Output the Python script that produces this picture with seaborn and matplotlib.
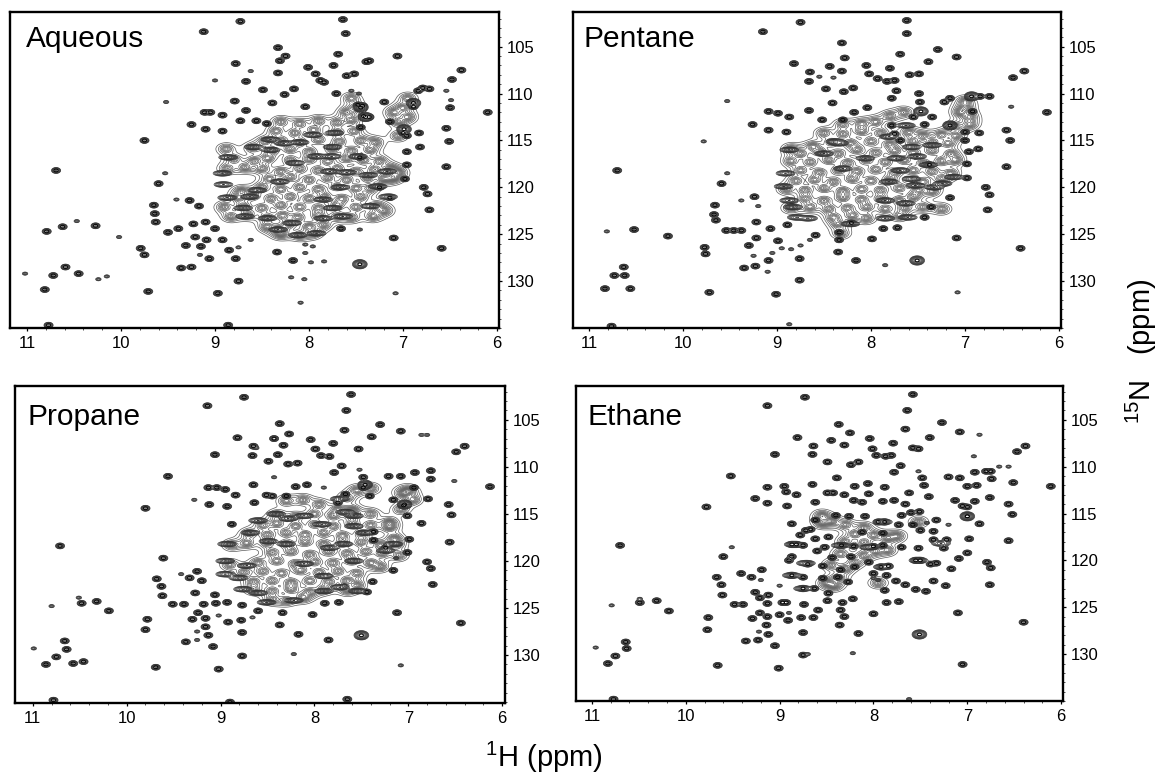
import numpy as np
import pandas as pd
import matplotlib
matplotlib.use("Agg")
import matplotlib.pyplot as plt
from matplotlib.path import Path
from matplotlib.ticker import MultipleLocator
import seaborn as sns

# ---- peak tables: (1H ppm, 15N ppm) ----
aqueous_sharp = [(7.64,102.1),(7.61,103.6),(8.73,102.3),(9.12,103.4),(8.33,105.1),(8.31,106.5),(8.25,106.0),(7.69,105.8),(7.06,106.0),
(7.36,106.5),(7.39,106.6),(7.74,107.0),(8.78,106.8),(8.33,107.8),(8.01,107.2),(7.93,107.9),(7.84,108.8),(7.88,108.6),(7.52,107.9),(7.6,108.1),
(6.38,107.5),(6.48,108.5),(8.67,108.7),(8.49,109.6),(8.16,109.5),(8.26,110.1),(7.71,110.0),(6.79,109.4),(6.72,109.5),(6.84,109.7),
(8.79,110.8),(8.39,111.0),(6.5,111.5),(6.1,112.0),(9.11,112.0),(9.05,112.0),(8.92,112.3),(8.67,111.8),(8.73,112.9),(8.56,112.9),(8.45,113.2),
(8.04,111.4),(7.48,111.2),(7.43,111.3),(7.42,112.4),(7.36,112.5),(7.45,113.6),(7.2,110.9),(6.89,111.4),(9.25,113.3),(9.1,113.8),(8.92,114.0),(9.75,115.0),
(6.54,113.7),(6.51,115.1),(6.54,117.8),(6.96,116.2),(6.96,117.6),(6.98,119.1),(6.78,120.0),(6.74,120.7),(6.72,122.4),(7.14,121.1),(7.25,120.0),
(7.1,125.4),(6.59,126.5),(7.66,124.4),(8.17,127.8),(8.34,126.9),(8.78,127.6),(9.06,127.6),(8.75,130.0),(8.97,131.3),(9.71,131.1),
(8.86,134.7),(10.77,134.7),(10.81,130.9),(10.72,129.4),(10.59,128.5),(10.45,129.2),(10.69,118.2),(9.6,119.6),(9.65,121.9),(9.64,122.8),(9.63,123.7),
(10.62,124.2),(10.79,124.7),(10.27,124.1),(9.79,126.5),(9.75,127.2),(9.5,124.8),(9.39,124.4),(9.27,121.4),(9.17,122.0),(9.31,126.2),(9.15,126.3),
(9.36,128.6),(9.25,128.5),(9.09,125.6),(8.92,125.6),(9.21,125.3),(9.23,123.9),(9.1,123.7),(9.0,124.4),(8.85,126.7),(7.14,113.0),(7.0,114.2),(6.96,114.5),
(6.83,114.2),(6.82,115.7),(7.46,116.8)]
aqueous_weak = [(8.62,107.6),(9.0,108.6),(6.54,109.7),(9.52,110.9),(6.49,110.7),(7.46,124.5),(7.08,131.3),(8.19,129.6),(8.09,132.3),(11.02,129.2),
(10.15,129.5),(10.24,129.8),(9.53,118.5),(10.47,123.6),(10.02,125.3),(9.41,121.3),(9.16,127.2),(8.75,126.4),(8.62,125.6),(8.04,127.0),(7.98,128.0),(7.84,127.9),(8.05,129.8),(8.04,126.1),(7.96,126.3),(7.55,109.7),(7.47,110.0)]
aqueous_strong = [(7.46,128.2),(7.45,111.5),(7.4,112.5),(6.89,111.0),(6.99,113.8)]
aqueous_streak = [(8.68,123.1),(8.87,121.1),(8.44,123.3),(8.92,118.5),(8.91,119.7),(8.86,116.8),(8.59,115.7),(8.41,114.9),(8.31,119.4),(8.15,117.4),(7.92,116.7),(7.75,115.7),(7.73,114.2),(7.96,114.4),
(7.48,116.7),(7.6,118.4),(7.78,118.3),(7.37,118.7),(7.17,118.3),(7.27,119.9),(7.16,121.0),(7.35,122.0),(7.64,123.1),(7.85,123.3),(7.85,121.3),(8.18,123.8),(8.33,124.5),(8.12,125.1),(7.92,124.9),
(8.63,121.0),(8.55,120.3),(8.7,122.2),(7.67,120.0),(7.75,122.2),(8.41,116.0),(8.27,115.3),(8.1,115.2),(7.76,116.7)]
aqueous_core = [(8.3,113.0),(8.1,113.2),(7.9,112.9),(7.7,113.1),(7.55,112.8),(8.35,114.0),(8.15,114.2),(7.95,113.9),(7.7,114.1),(7.52,114.0),
(8.47,115.1),(8.3,115.0),(8.1,115.2),(7.9,114.9),(7.68,115.1),(7.45,115.0),(7.3,115.2),(8.88,115.9),(8.6,115.8),(8.4,116.1),(8.2,115.9),(8.0,116.2),
(7.75,115.9),(7.55,116.1),(7.35,116.0),(8.8,117.0),(8.58,117.2),(8.44,116.9),(8.2,117.1),(8.0,117.0),(7.8,117.2),(7.6,116.9),(7.42,117.1),(7.25,117.2),
(8.87,118.0),(8.68,117.9),(8.5,118.0),(8.3,118.3),(8.1,118.0),(7.9,118.2),(7.7,118.0),(7.5,118.3),(7.3,118.1),(7.13,118.0),(7.05,118.4),
(8.42,119.1),(8.2,118.9),(8.0,119.2),(7.8,119.0),(7.6,119.2),(7.38,119.0),(7.2,119.1),(7.1,119.0),(8.72,120.4),(8.5,120.0),(8.3,120.2),(8.1,120.0),(7.9,120.2),
(7.7,119.9),(7.5,120.1),(7.35,120.1),(8.75,121.1),(8.6,120.9),(8.4,121.2),(8.2,121.0),(8.0,121.2),(7.84,121.0),(7.65,121.2),(7.45,121.0),
(8.9,122.1),(8.7,122.0),(8.5,122.2),(8.3,121.9),(8.1,122.1),(7.9,122.2),(7.7,121.9),(7.5,122.1),(7.28,122.0),(7.2,122.5),(8.83,123.1),(8.65,122.9),(8.45,123.2),
(8.28,123.0),(8.12,123.2),(7.9,123.0),(7.7,123.1),(7.55,123.2),(7.32,123.1),(8.45,124.2),(8.22,123.9),(8.0,124.2),(7.85,124.0),(8.3,125.0),(8.1,125.1),(7.96,124.9),(8.32,124.5),
(7.1,112.0),(7.05,113.0),(7.0,111.5),(6.95,112.5),(7.05,114.5),(6.95,110.5),(7.6,112.0),(7.5,111.5),(7.55,110.5)]

pentane_sharp = [(7.62,102.2),(7.62,103.6),(8.75,102.4),(9.15,103.4),(8.31,104.6),(7.29,105.3),(7.69,105.8),(7.09,106.1),(8.28,106.2),(7.39,106.6),
(8.82,106.8),(8.65,107.7),(8.44,107.1),(8.31,107.6),(7.8,107.3),(8.05,107.0),(8.02,107.9),(7.93,108.4),(7.83,108.7),(7.75,108.6),(7.49,107.9),(7.59,108.0),
(6.37,107.6),(6.49,108.3),(8.66,108.7),(8.48,109.5),(8.19,109.4),(8.29,109.8),(7.73,109.7),(7.78,110.5),(7.49,110.0),(7.48,110.9),(6.74,110.3),(6.84,110.3),
(7.22,110.9),(7.16,110.5),(8.41,111.0),(6.13,112.0),(9.09,111.9),(8.99,112.1),(8.87,112.5),(8.66,111.8),(8.52,112.8),(8.3,112.8),(8.18,112.0),(8.04,111.5),
(7.55,112.5),(7.35,112.5),(6.92,111.9),(7.0,114.1),(6.85,114.2),(6.56,113.9),(6.52,115.0),(7.43,113.3),(7.78,113.4),(7.75,114.3),(7.69,115.0),(9.26,113.3),
(9.09,113.9),(8.9,114.1),(7.0,115.0),(6.96,116.2),(6.86,115.9),(6.98,117.5),(6.98,119.0),(6.56,117.8),(6.78,120.0),(6.74,120.8),(6.76,122.4),(7.16,121.1),
(7.36,122.1),(7.43,123.2),(7.38,117.6),(7.72,124.3),(7.87,124.4),(7.99,125.5),(7.09,125.4),(6.41,126.5),(8.16,127.8),(8.35,126.9),(8.76,127.6),(9.09,127.8),
(8.76,129.9),(9.01,131.4),(9.72,131.2),(10.76,134.8),(10.83,130.8),(10.56,130.8),(10.73,129.4),(10.62,129.4),(10.63,128.5),(10.7,118.2),(9.59,119.6),
(9.66,121.9),(9.67,122.9),(9.65,123.5),(10.52,124.5),(10.16,125.2),(9.77,126.4),(9.76,127.1),(9.46,124.6),(9.54,124.6),(9.38,124.6),(9.24,121.0),(9.22,123.7),
(9.22,125.4),(9.3,126.2),(9.35,128.6),(9.23,128.4),(8.99,125.7),(8.89,124.0),(9.07,124.4),(8.59,125.1),(8.34,124.8),(8.34,125.6),(8.21,123.8)]
pentane_weak = [(9.53,110.8),(6.96,110.5),(6.51,111.4),(9.78,115.1),(7.08,131.2),(7.85,128.3),(8.87,134.6),(10.81,124.7),(9.53,118.5),(9.38,121.4),(9.2,122.0),
(9.1,129.0),(8.95,126.5),(8.75,126.2),(8.85,126.6),(8.65,125.6),(9.25,127.3),(9.05,127.0),(8.55,108.2),(8.4,108.3)]
pentane_strong = [(7.51,127.8),(7.47,111.9),(7.16,113.4),(6.93,110.3)]
pentane_streak = [(8.91,118.5),(8.93,119.9),(8.87,121.4),(8.79,123.2),(8.67,123.3),(8.87,116.0),(7.69,118.2),(7.57,119.1),(7.53,119.8),(7.39,117.6),(7.63,121.7),(7.85,123.3),(7.61,123.2),
(7.12,118.9),(7.24,119.6),(7.33,120.0),(8.34,115.3),(8.5,116.4),(8.06,116.9),(8.3,118.0),(7.81,119.4),(7.85,121.4),(8.83,122.1),(8.22,123.9),(8.38,115.1),(7.57,115.7),(7.35,115.5),(7.51,116.7),(7.73,116.9),(7.81,114.6),(7.63,113.4)]
pentane_core = [(8.3,113.3),(8.1,113.2),(7.95,113.0),(8.5,114.2),(8.3,114.3),(8.1,114.0),(7.9,114.2),(7.6,114.1),(7.45,114.5),(7.25,114.4),(8.85,115.9),(8.62,115.6),(8.42,115.2),(8.22,115.3),
(8.0,115.1),(7.8,115.4),(7.55,115.1),(7.35,115.2),(7.18,115.3),(8.75,116.4),(8.55,116.2),(8.35,116.4),(8.15,116.0),(7.95,116.3),(7.75,116.1),(7.55,116.3),(7.35,116.1),(7.15,116.4),
(8.85,117.2),(8.65,117.3),(8.45,117.1),(8.25,117.4),(8.05,117.1),(7.85,117.3),(7.65,117.1),(7.45,117.4),(7.25,117.2),(7.1,117.1),(8.75,118.2),(8.55,118.4),(8.35,118.2),(8.15,118.3),
(7.95,118.1),(7.75,118.4),(7.55,118.2),(7.35,118.3),(7.15,118.5),(8.8,119.3),(8.6,119.2),(8.4,119.4),(8.2,119.1),(8.0,119.3),(7.8,119.2),(7.45,119.4),(7.25,119.1),
(8.9,120.2),(8.7,120.3),(8.5,120.1),(8.3,120.4),(8.1,120.2),(7.9,120.3),(7.7,120.1),(7.5,120.3),(7.35,120.4),(8.7,121.2),(8.5,121.4),(8.3,121.1),(8.1,121.3),(7.9,121.2),(7.7,121.4),(7.55,121.0),
(8.85,122.2),(8.65,122.1),(8.45,122.3),(8.25,122.2),(8.05,122.1),(7.85,122.3),(7.65,122.2),(7.45,122.1),(7.25,122.3),(8.4,123.2),(8.2,123.0),(8.05,123.3),(7.7,123.0),(8.35,123.9),(8.32,124.9),
(7.05,112.0),(6.95,112.5),(7.1,113.5),(6.95,113.3),(7.0,111.5),(7.1,114.5),(7.8,112.4),(7.65,112.0),(7.0,110.8)]

propane_sharp = [(7.61,102.3),(7.66,104.0),(8.75,102.6),(9.14,103.5),(8.37,105.4),(8.27,106.5),(8.82,106.9),(7.3,105.5),(7.68,106.1),(7.08,106.2),(7.39,106.8),(8.43,107.0),
(8.04,107.1),(7.8,107.5),(8.33,107.7),(8.65,107.8),(7.99,108.1),(7.84,108.9),(7.93,108.8),(7.53,108.1),(6.4,107.8),(6.49,108.4),(9.06,108.7),(8.66,108.8),(8.49,109.4),(8.39,108.7),
(8.28,109.7),(8.18,109.6),(7.71,109.9),(7.79,110.6),(6.76,110.4),(6.93,110.6),(7.21,111.0),(7.08,111.0),(6.76,111.3),(6.13,112.1),(9.56,111.0),(9.13,112.2),(9.04,112.2),
(8.95,112.4),(8.84,113.0),(8.65,111.9),(8.51,113.0),(8.45,113.1),(8.2,112.1),(8.08,111.9),(8.3,113.1),(7.48,111.1),(7.48,112.2),(7.41,113.1),(7.67,112.9),(7.75,113.8),
(7.16,113.5),(7.05,114.1),(7.01,115.2),(6.94,112.2),(6.79,113.4),(6.57,114.0),(6.54,115.1),(6.56,118.0),(6.86,116.0),(6.99,117.7),(7.01,119.1),(6.8,120.1),(6.76,120.8),(6.74,122.5),
(7.16,121.0),(7.38,122.2),(7.44,123.3),(7.74,124.4),(7.89,124.5),(7.24,118.6),(7.37,117.8),(7.37,116.9),(8.64,113.8),(8.93,114.2),(9.12,114.0),(9.8,114.4),(8.88,116.1),(10.71,118.4),
(9.61,119.7),(9.25,121.1),(9.33,121.8),(9.2,122.1),(9.68,121.9),(9.63,122.7),(9.62,123.7),(10.48,124.5),(10.32,124.3),(10.19,125.3),(9.78,126.2),(9.8,127.3),(9.51,124.6),(9.39,124.6),
(9.27,123.4),(9.06,123.6),(9.18,124.6),(9.05,124.5),(8.93,124.4),(8.77,124.7),(8.6,125.3),(9.24,125.5),(9.3,126.2),(9.16,126.1),(8.92,126.5),(8.78,126.3),(9.16,127.0),(9.13,127.9),
(8.77,127.6),(9.37,128.6),(9.08,129.1),(8.77,130.1),(9.02,131.5),(9.69,131.3),(7.85,128.4),(8.17,127.8),(8.37,126.8),(8.34,125.5),(8.02,125.7),(7.12,125.5),(6.44,126.6),(10.66,128.5),
(10.64,129.4),(10.75,130.2),(10.57,130.9),(10.46,130.7),(10.86,131.0),(10.78,134.8),(8.9,135.0),(7.65,134.7)]
propane_weak = [(7.52,110.3),(6.51,111.5),(9.28,113.5),(10.51,123.9),(10.8,124.8),(9.42,121.4),(8.66,126.0),(9.02,125.8),(9.25,127.5),(9.25,128.4),(7.08,131.1),(8.22,129.9),(10.99,129.3),
(8.43,111.1),(7.9,112.2),(6.86,106.6),(6.8,106.6),(7.13,119.7),(8.62,108.0),(8.43,106.9),(7.68,122.6)]
propane_strong = [(7.5,127.9),(7.46,111.9),(7.04,114.0)]
propane_streak = [(8.93,118.2),(8.95,120.0),(8.95,121.4),(8.81,121.8),(8.76,123.0),(8.6,123.4),(8.72,120.5),(8.3,118.2),(8.28,115.5),(8.41,115.0),(8.11,115.2),(7.92,116.1),(7.67,114.8),(7.58,115.2),
(7.58,116.3),(7.46,117.0),(7.69,118.2),(7.84,118.6),(7.58,120.0),(7.9,121.6),(7.9,123.2),(7.24,118.9),(7.16,118.2),(7.73,113.4),(8.11,120.3),(8.49,117.9),(8.68,117.0),(7.73,122.8),(7.54,123.2),(8.22,124.2),(8.51,124.4),(8.6,115.7)]
propane_core = [(8.3,113.6),(8.12,113.5),(7.95,114.0),(7.75,114.5),(7.6,114.6),(8.4,115.1),(8.2,115.3),(8.0,115.0),(7.8,115.2),(7.6,115.1),(7.4,115.0),(7.2,115.9),(8.55,116.2),(8.4,116.0),
(8.2,116.3),(8.0,116.1),(7.8,116.3),(7.6,116.0),(7.4,116.2),(7.2,116.4),(8.7,117.1),(8.5,117.2),(8.3,117.0),(8.1,117.2),(7.9,117.0),(7.7,117.3),(7.5,117.1),(7.15,117.6),(8.5,118.1),
(8.3,118.2),(8.1,118.0),(7.9,118.2),(7.7,118.1),(7.5,118.0),(7.3,118.3),(7.12,118.2),(8.88,118.3),(8.72,118.1),(8.45,119.1),(8.25,119.0),(8.05,119.3),(7.85,119.0),(7.65,119.2),(7.45,119.0),(7.28,119.2),(7.1,119.4),
(8.6,120.2),(8.4,120.0),(8.2,120.3),(8.0,120.1),(7.8,120.2),(7.6,120.0),(7.4,120.2),(7.3,120.6),(8.9,120.4),(8.75,121.2),(8.55,121.1),(8.35,121.3),(8.15,121.0),(7.95,121.2),(7.75,121.1),(7.55,121.3),(8.65,122.2),
(8.45,122.1),(8.25,122.3),(8.05,122.1),(7.85,122.2),(7.65,122.1),(7.55,122.6),(8.65,123.0),(8.45,123.2),(8.25,123.0),(8.05,123.3),(7.9,123.0),(7.65,123.1),(8.45,124.1),(8.3,124.2),(8.12,123.9),
(7.0,112.5),(6.95,113.5),(7.05,112.8),(7.08,114.5),(7.65,113.3),(7.55,112.5),(7.4,112.3)]

ethane_sharp = [(7.58,102.3),(7.64,104.0),(8.73,102.6),(9.13,103.5),(7.27,105.3),(8.37,105.5),(8.25,106.4),(7.66,106.0),(7.08,106.3),(7.4,106.9),(8.81,106.9),(8.04,107.0),(8.45,107.2),
(7.79,107.5),(8.64,107.8),(8.31,107.7),(8.01,108.1),(7.97,108.8),(7.81,108.8),(7.87,108.9),(7.52,108.1),(7.58,108.0),(6.38,107.8),(6.47,108.4),(9.05,108.7),(8.65,108.7),(8.49,109.5),(8.16,109.5),(8.24,109.8),
(7.71,109.9),(7.78,110.6),(6.75,110.5),(6.8,110.5),(6.92,110.6),(7.2,111.1),(7.08,111.2),(6.74,111.3),(6.51,111.7),(6.11,112.1),(9.52,111.0),(9.13,112.2),(8.95,112.1),(8.93,112.7),(8.82,113.0),(8.65,111.9),
(8.49,112.8),(8.43,112.8),(8.2,112.1),(8.06,111.8),(7.88,112.2),(8.05,112.9),(8.39,111.2),(7.46,112.0),(7.48,111.2),(7.41,113.2),(7.62,112.8),(6.9,112.0),(7.0,112.1),(8.31,113.0),(8.21,113.6),(8.12,113.8),
(7.9,113.7),(7.78,113.6),(7.66,114.0),(7.13,113.6),(6.92,113.7),(6.76,113.3),(7.0,114.3),(7.05,114.2),(7.0,115.3),(6.87,116.1),(6.56,114.0),(6.52,115.1),(6.56,117.9),(9.26,113.4),(9.13,113.9),(8.92,114.2),(9.78,114.3),
(8.62,113.8),(10.7,118.4),(9.6,119.6),(9.19,121.0),(9.41,121.4),(9.3,121.8),(9.67,121.8),(9.62,122.6),(9.61,123.7),(10.49,124.5),(10.31,124.3),(10.18,125.4),(9.76,126.1),(9.77,127.4),(9.48,124.7),(9.39,124.7),(9.26,123.4),
(9.21,124.0),(9.12,123.7),(9.13,124.6),(8.97,124.5),(8.93,124.5),(8.74,124.7),(8.59,125.3),(8.49,124.3),(8.33,124.5),(8.35,125.3),(8.22,124.1),(8.0,125.7),(7.86,124.5),(7.73,124.4),(9.21,125.6),(9.29,126.2),(9.13,126.0),
(9.0,125.8),(8.91,126.4),(8.77,126.1),(8.64,126.1),(8.31,126.0),(8.36,126.9),(9.14,126.9),(9.12,127.9),(8.75,127.7),(8.16,127.8),(9.36,128.6),(9.23,128.5),(9.05,129.1),(8.75,130.1),(9.01,131.5),(9.66,131.2),(7.05,131.1),
(7.1,125.6),(6.4,126.6),(6.76,122.6),(6.75,120.8),(6.79,120.2),(6.98,117.7),(7.0,119.2),(7.09,119.8),(7.17,120.9),(7.23,122.7),(7.36,122.2),(7.44,123.3),(7.55,123.1),(7.66,122.6),(7.33,120.3),(7.39,120.4),(7.5,120.0),(7.55,120.0),
(7.22,117.8),(7.25,118.7),(7.36,117.8),(7.36,116.9),(7.5,116.8),(7.33,115.7),(7.58,116.2),(7.51,114.8),(7.6,114.9),(7.7,115.2),(10.64,128.7),(10.63,129.4),(10.83,131.0),(10.75,130.2),(10.77,134.8),
(8.87,116.1),(8.67,116.7),(8.72,116.8),(8.78,117.3),(8.62,117.7),(8.87,118.3),(8.82,118.3),(8.75,118.4),(8.52,118.6),(8.34,118.4),(8.21,118.5),(8.0,118.5),(7.9,118.4),(7.7,118.6),(7.52,118.7),(8.87,119.6),(8.9,120.0),(8.7,120.4),(8.54,120.6),
(8.44,119.7),(8.24,119.6),(8.05,120.2),(7.84,120.6),(7.92,120.7),(8.87,121.6),(8.75,121.8),(8.54,121.9),(8.38,121.8),(8.27,122.3),(8.75,123.0),(8.63,123.0),(8.48,123.5),(7.86,121.6),(7.76,122.2),(7.88,123.2),(8.62,115.7),
(8.4,115.2),(8.26,115.3),(8.12,117.0),(7.95,115.9),(7.88,115.9),(7.73,116.2),(7.9,117.1),(8.09,115.3),(8.35,121.0),(8.2,120.7),(8.0,121.4),(8.48,117.5),(8.6,119.0)]
ethane_weak = [(7.52,110.5),(6.87,106.6),(6.66,110.0),(6.56,110.0),(9.51,118.6),(7.43,116.0),(7.2,116.2),(10.49,124.1),(10.79,124.8),(9.2,122.1),(9.22,127.6),(8.22,129.9),(10.96,129.3),(7.62,134.8),(6.93,108.9),
(8.9,125.6),(7.95,122.1),(8.0,121.9),(9.0,122.7),(8.7,130.0)]
ethane_strong = [(7.51,127.9),(7.0,115.3)]
ethane_streak = [(8.85,118.3),(8.72,120.3),(8.75,123.0),(8.87,121.6),(7.9,115.9),(8.35,118.4),(8.05,118.6),(7.52,120.0),(7.9,120.7),(7.28,118.2)]
ethane_core = [(8.45,115.8),(8.3,116.2),(8.55,116.0),(8.2,117.2),(8.0,117.3),(7.85,117.6),(8.3,118.0),(8.1,118.1),(8.35,119.3),(8.2,120.2),(8.45,120.5),(8.3,120.9),(8.5,122.4),(8.1,119.5),(7.98,119.0),(7.95,122.4),(7.52,115.9),
(8.55,115.2),(8.37,121.9),(8.1,116.5),(7.75,117.4),(7.85,118.9),(8.42,122.7)]

panels = [
    ("Aqueous", aqueous_sharp, aqueous_weak, aqueous_strong, aqueous_streak, aqueous_core),
    ("Pentane", pentane_sharp, pentane_weak, pentane_strong, pentane_streak, pentane_core),
    ("Propane", propane_sharp, propane_weak, propane_strong, propane_streak, propane_core),
    ("Ethane", ethane_sharp, ethane_weak, ethane_strong, ethane_streak, ethane_core),
]
# panel box in pixels (left, top, right, bottom), axis limits, label offset
layout = {
    "Aqueous": ((10, 12, 499, 328), (11.18, 5.98), (101.3, 135.0), (16, 35)),
    "Pentane": ((573, 12, 1061, 328), (11.17, 5.98), (101.3, 135.0), (11, 35)),
    "Propane": ((15, 386, 505, 703), (11.19, 5.97), (101.4, 135.1), (12, 39)),
    "Ethane": ((576, 386, 1063, 701), (11.17, 5.98), (101.4, 135.0), (12, 39)),
}
# (relative height, width in 1H, width in 15N)
shapes = {"sharp": (1.0, 0.02, 0.13), "weak": (0.22, 0.017, 0.10), "strong": (1.6, 0.03, 0.19),
          "streak": (0.6, 0.045, 0.14), "core": (0.32, 0.04, 0.26), "pedestal": (0.26, 0.085, 0.5)}

sns.set_theme(style="ticks")
plt.rcParams["font.family"] = ["Liberation Sans", "DejaVu Sans"]
plt.rcParams["mathtext.fontset"] = "custom"
plt.rcParams["mathtext.rm"] = "Liberation Sans"
plt.rcParams["mathtext.default"] = "regular"

W, H_PX = 1160, 773
fig = plt.figure(figsize=(W / 100, H_PX / 100), dpi=100, facecolor="white")

th = np.linspace(0, 2 * np.pi, 25)
ring = Path(np.c_[1.5 * np.cos(th), np.sin(th)])
peak_levels = np.array([0.05, 0.08, 0.12, 0.18, 0.27, 0.4, 0.58, 0.9, 1.3])
core_levels = np.array([0.12, 0.2, 0.28, 0.36, 0.43, 0.5, 0.56, 0.62, 0.68, 0.74, 0.8, 0.87, 0.95, 1.05])
h_axis = np.linspace(5.9, 11.25, 1500)
n_axis = np.linspace(101.0, 135.3, 1400)


def field(groups):
    Z = np.zeros((n_axis.size, h_axis.size))
    for kind, peaks in groups:
        a, sx, sy = shapes[kind]
        p = np.array(peaks)
        gx = np.exp(-0.5 * ((h_axis[None, :] - p[:, 0, None]) / sx) ** 2)
        gy = np.exp(-0.5 * ((n_axis[None, :] - p[:, 1, None]) / sy) ** 2)
        Z += a * (gy.T @ gx)
    return Z


for name, sharp, weak, strong, streak, core in panels:
    (l, t, r, b), xlim, ylim, (dx, dy) = layout[name]
    ax = fig.add_axes([l / W, 1 - b / H_PX, (r - l) / W, (b - t) / H_PX])
    ax.contour(h_axis, n_axis, field([("core", core), ("pedestal", core)]), levels=core_levels, colors="#5a5a5a", linewidths=0.5)
    ax.contour(h_axis, n_axis, field([("sharp", sharp), ("weak", weak), ("strong", strong), ("streak", streak)]),
               levels=peak_levels, colors="#333333", linewidths=0.45)
    ring_df = pd.DataFrame(sharp + strong, columns=["H", "N"])
    sns.scatterplot(data=ring_df, x="H", y="N", ax=ax, marker=ring, s=9, color="black",
                    edgecolor="black", linewidth=0.6, legend=False, zorder=3)
    ax.collections[-1].set_facecolor("none")
    ax.set_xlim(*xlim)
    ax.set_ylim(ylim[1], ylim[0])
    ax.set_xlabel("")
    ax.set_ylabel("")
    ax.yaxis.tick_right()
    ax.set_xticks([11, 10, 9, 8, 7, 6])
    ax.set_yticks([105, 110, 115, 120, 125, 130])
    ax.xaxis.set_minor_locator(MultipleLocator(0.2))
    ax.yaxis.set_minor_locator(MultipleLocator(1))
    ax.tick_params(axis="both", which="major", length=2.4, width=0.9, labelsize=12, color="black", labelcolor="black", pad=3.4)
    ax.tick_params(axis="both", which="minor", length=1.1, width=0.6, color="#333333")
    for s in ax.spines.values():
        s.set_visible(True)
        s.set_linewidth(1.7)
        s.set_color("black")
    fig.text((l + dx) / W, 1 - (t + dy) / H_PX, name, fontsize=21.5, color="black", va="baseline", ha="left")

fig.text(544 / W, 1 - 767 / H_PX, r"$^{1}$H (ppm)", fontsize=21, ha="center", va="baseline", color="black")
fig.text(1141 / W, 1 - 351 / H_PX, r"$^{15}$N   (ppm)", fontsize=21, rotation=90, ha="center", va="center", color="black")

fig.savefig("out.png", dpi=100, facecolor="white")
